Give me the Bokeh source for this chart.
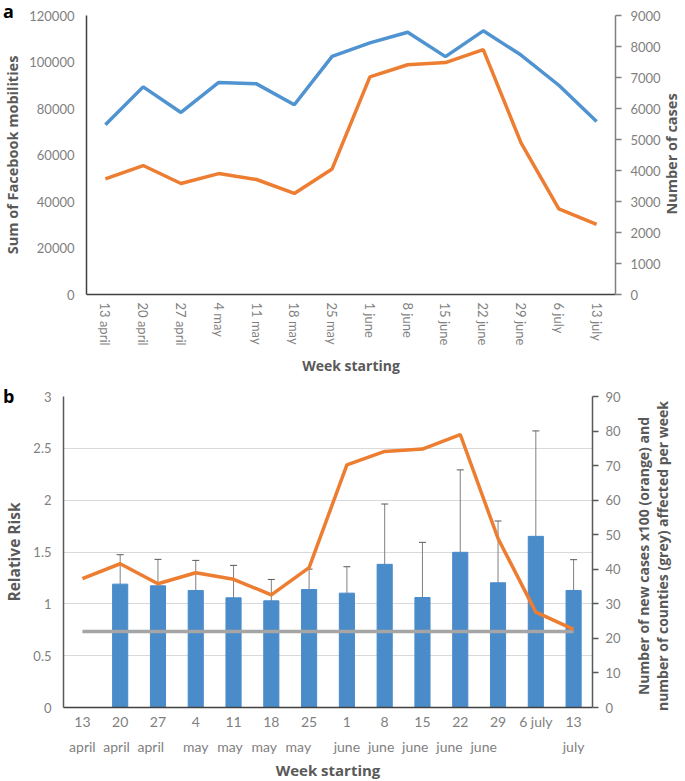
import math
from bokeh.plotting import figure
from bokeh.models import (Range1d, LinearAxis, FactorRange, Whisker,
                          ColumnDataSource, FixedTicker, TeeHead, NumeralTickFormatter)
from bokeh.embed import file_html
from bokeh.resources import INLINE

weeks = ["13 april", "20 april", "27 april", "4 may", "11 may", "18 may", "25 may",
         "1 june", "8 june", "15 june", "22 june", "29 june", "6 july", "13 july"]
# panel b: two-line week labels (number row, month row)
week_row1_b = ["13", "20", "27", "4", "11", "18", "25", "1", "8", "15", "22", "29", "6 july", "13"]
week_row2_b = ["april", " april ", "  april  ", "may", " may ", "  may  ", "   may   ",
               "june", " june ", "  june  ", "   june   ", "    june    ", "", "july"]
mobilities = [73000, 89300, 78300, 91200, 90600, 81600, 102400,
              108200, 112800, 102300, 113400, 103000, 90000, 74400]
cases = [3730, 4160, 3580, 3900, 3710, 3260, 4050,
         7020, 7410, 7480, 7900, 4890, 2760, 2260]
new_cases_x100 = [37.3, 41.6, 35.8, 39.0, 37.1, 32.6, 40.5,
                  70.2, 74.1, 74.8, 79.0, 48.9, 27.6, 22.6]
counties = [22, 22, 22, 22, 22, 22, 22, 22, 22, 22, 22, 22, 22, 22]
rr = [1.19, 1.174, 1.129, 1.058, 1.029, 1.138, 1.103, 1.381, 1.061, 1.497, 1.203, 1.651, 1.129]
rr_low = [0.961, 0.965, 0.891, 0.82, 0.859, 0.968, 0.891, 0.971, 0.701, 0.987, 0.794, 1.026, 0.891]
rr_high = [1.474, 1.429, 1.419, 1.371, 1.235, 1.335, 1.358, 1.963, 1.593, 2.292, 1.799, 2.668, 1.426]

right_title_a = "Number of cases"
right_title_b = ["Number of new cases x100 (orange) and",
                 "number of counties (grey) affected per week"]

BLUE_LINE = "#4F93D1"
BLUE_BAR = "#4A8BC9"
ORANGE = "#ED7D31"
GREY = "#A5A5A5"
TICK_COL = "#7F7F7F"
TITLE_COL = "#595959"
TICK_FONT = "Lato"
TITLE_FONT = "Open Sans"


def style_axis(ax, line_color="#404040"):
    ax.axis_line_color = line_color
    ax.axis_line_width = 1.5
    ax.major_tick_in = 0
    ax.major_tick_out = 0
    ax.minor_tick_line_color = None
    ax.major_label_text_color = TICK_COL
    ax.major_label_text_font = TICK_FONT
    ax.major_label_text_font_size = "13px"
    ax.axis_label_text_color = TITLE_COL
    ax.axis_label_text_font = TITLE_FONT
    ax.axis_label_text_font_style = "bold"
    ax.axis_label_text_font_size = "14px"


# ---------------- Panel a ----------------
p1 = figure(x_range=FactorRange(*weeks), y_range=Range1d(0, 120000),
            frame_width=529, frame_height=279,
            min_border_left=84, min_border_right=72, min_border_top=15, min_border_bottom=87,
            output_backend="svg", toolbar_location=None)
p1.outline_line_color = None
p1.xgrid.visible = False
p1.ygrid.visible = False
p1.extra_y_ranges = {"cases": Range1d(0, 9000)}

p1.line(weeks, mobilities, color=BLUE_LINE, line_width=3.5)
p1.line(weeks, cases, y_range_name="cases", color=ORANGE, line_width=3.5)

ya = p1.yaxis[0]
style_axis(ya, "#404040")
ya.ticker = FixedTicker(ticks=[0, 20000, 40000, 60000, 80000, 100000, 120000])
ya.formatter = NumeralTickFormatter(format="0")
ya.major_label_standoff = 12
ya.axis_label = "Sum of Facebook mobilities"
ya.axis_label_standoff = 4
ya.axis_label_text_font_size = "14.5px"

xa = p1.xaxis[0]
style_axis(xa, "#404040")
xa.major_label_orientation = "vertical"
xa.major_label_standoff = 8
xa.axis_label = "Week starting"
xa.axis_label_standoff = 7

ra = LinearAxis(y_range_name="cases", ticker=FixedTicker(ticks=list(range(0, 9001, 1000))))
style_axis(ra, "#808080")
ra.major_tick_out = 6
ra.major_tick_line_color = "#808080"
ra.major_tick_line_width = 1.5
ra.major_label_standoff = 9
p1.add_layout(ra, "right")

# ---------------- Panel b ----------------
b_factors = list(zip(week_row2_b, week_row1_b))
rr_factors = b_factors[1:]

p2 = figure(x_range=FactorRange(*b_factors, factor_padding=0, group_padding=0, subgroup_padding=0),
            y_range=Range1d(0, 3),
            frame_width=529, frame_height=311,
            min_border_left=58, min_border_right=98, min_border_top=15, min_border_bottom=74,
            output_backend="svg", toolbar_location=None)
p2.outline_line_color = None
p2.xgrid.visible = False
p2.ygrid.grid_line_color = "#D9D9D9"
p2.ygrid.grid_line_width = 1
p2.ygrid.ticker = FixedTicker(ticks=[0, 0.5, 1, 1.5, 2, 2.5, 3])
p2.extra_y_ranges = {"right": Range1d(0, 90)}

src = ColumnDataSource(dict(x=rr_factors, top=rr, lower=rr_low, upper=rr_high))
p2.vbar(x="x", top="top", width=0.4, source=src, color=BLUE_BAR)
wh = Whisker(source=src, base="x", upper="upper", lower="lower",
             line_color="#808080", line_width=1,
             upper_head=TeeHead(size=7, line_color="#595959", line_width=1),
             lower_head=TeeHead(size=7, line_color="#595959", line_width=1))
p2.add_layout(wh)
p2.line(b_factors, counties, y_range_name="right", color=GREY, line_width=3.5)
p2.line(b_factors, new_cases_x100, y_range_name="right", color=ORANGE, line_width=3.5)

yb = p2.yaxis[0]
style_axis(yb, "#595959")
yb.ticker = FixedTicker(ticks=[0, 0.5, 1, 1.5, 2, 2.5, 3])
yb.major_label_standoff = 12
yb.axis_label = "Relative Risk"
yb.axis_label_standoff = 5
yb.axis_label_text_font_size = "15.5px"

xb = p2.xaxis[0]
style_axis(xb, "#404040")
xb.major_label_text_font_size = "14px"
xb.major_label_standoff = 5
xb.group_text_font = TICK_FONT
xb.group_text_font_size = "14px"
xb.group_text_font_style = "normal"
xb.group_text_color = TICK_COL
xb.separator_line_color = None
xb.axis_label = "Week starting"
xb.axis_label_standoff = 2
xb.axis_label_text_font_size = "15px"

rb = LinearAxis(y_range_name="right", ticker=FixedTicker(ticks=list(range(0, 91, 10))))
style_axis(rb, "#595959")
rb.major_tick_out = 6
rb.major_tick_line_color = "#595959"
rb.major_tick_line_width = 1.5
rb.major_label_standoff = 7
p2.add_layout(rb, "right")

# panel letters and right-hand (upward reading) axis titles, placed in the page
LETTER = ("position:absolute; left:3px; top:{top}px; z-index:10; font-family:'Open Sans'; "
          "font-weight:bold; font-size:18px; line-height:24px; color:#000;")
ROT = ("position:absolute; left:{left}px; top:{top}px; width:{w}px; height:{h}px; z-index:10; "
       "transform:rotate(-90deg); transform-origin:50% 50%; text-align:center; white-space:nowrap; "
       "font-family:'Open Sans'; font-weight:bold; font-size:{fs}px; line-height:{lh}px; color:" + TITLE_COL + ";")


def rot_div(text_html, cx, cy, w, lines, fs, lh):
    h = lines * lh
    return '<div style="%s">%s</div>' % (ROT.format(left=cx - w / 2, top=cy - h / 2, w=w, h=h,
                                                    fs=fs, lh=lh), text_html)


extra_html = "\n".join([
    '<div style="%s">a</div>' % LETTER.format(top=-1),
    '<div style="%s">b</div>' % LETTER.format(top=384),
    rot_div(right_title_a, 672, 154, 300, 1, 14.5, 20),
    rot_div("<br>".join(right_title_b), 652.5, 556, 420, 2, 14, 19),
])

TEMPLATE = "{% block contents %}\n" + extra_html + "\n{{ super() }}\n{% endblock %}\n"

open("out.html", "w").write(file_html([p1, p2], INLINE, template=TEMPLATE))
